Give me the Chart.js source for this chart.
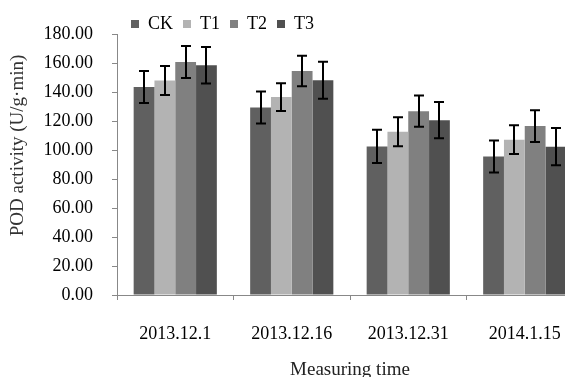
<!DOCTYPE html>
<html>
<head>
<meta charset="utf-8">
<script src="https://cdn.jsdelivr.net/npm/chart.js@4/dist/chart.umd.min.js"></script>
<style>
  html, body { margin: 0; padding: 0; background: #fff; overflow: hidden; }
  #wrap { position: relative; width: 600px; height: 377px; }
</style>
</head>
<body>
<div id="wrap"><canvas id="c" width="600" height="377"></canvas></div>
<script>
const categories = ["2013.12.1", "2013.12.16", "2013.12.31", "2014.1.15"];
const seriesNames = ["CK", "T1", "T2", "T3"];
const ckValues = [143.5, 129.3, 102.5, 95.5];
const t1Values = [148.0, 136.5, 112.6, 107.1];
const t2Values = [160.7, 154.5, 126.8, 116.5];
const t3Values = [158.4, 148.1, 120.6, 102.3];
const ckErrors = [11.0, 11.0, 11.5, 11.0];
const t1Errors = [10.0, 9.6, 10.0, 9.9];
const t2Errors = [11.0, 10.5, 10.8, 11.0];
const t3Errors = [12.6, 12.7, 12.5, 12.8];
const yTickValues = [0, 20, 40, 60, 80, 100, 120, 140, 160, 180];

const colors = ["#606060", "#b3b3b3", "#808080", "#505050"];
const values = [ckValues, t1Values, t2Values, t3Values];
const errors = [ckErrors, t1Errors, t2Errors, t3Errors];

const FONT = "'Liberation Serif', 'Times New Roman', serif";

const errorBarPlugin = {
  id: 'errorBars',
  afterDatasetsDraw(chart) {
    const ctx = chart.ctx;
    const yScale = chart.scales.y;
    ctx.save();
    ctx.strokeStyle = '#000';
    ctx.lineWidth = 2;
    chart.data.datasets.forEach((ds, di) => {
      const meta = chart.getDatasetMeta(di);
      meta.data.forEach((bar, i) => {
        const v = ds.data[i], e = ds.errors[i];
        const x = Math.round(bar.x);
        const yt = yScale.getPixelForValue(v + e);
        const yb = yScale.getPixelForValue(v - e);
        const cap = 5;
        ctx.beginPath();
        ctx.moveTo(x, yt); ctx.lineTo(x, yb);
        ctx.moveTo(x - cap, yt); ctx.lineTo(x + cap, yt);
        ctx.moveTo(x - cap, yb); ctx.lineTo(x + cap, yb);
        ctx.stroke();
      });
    });
    ctx.restore();
  }
};

const legendShift = {
  id: 'legendShift',
  afterLayout(chart) {
    const l = chart.legend;
    if (l) { const dx = 121, dy = 9; l.left += dx; l.right += dx; l.top += dy; l.bottom += dy; }
  }
};

new Chart(document.getElementById('c'), {
  type: 'bar',
  data: {
    labels: categories,
    datasets: seriesNames.map((n, k) => ({
      label: n,
      data: values[k],
      errors: errors[k],
      backgroundColor: colors[k],
      borderWidth: 0,
      barPercentage: 1.0,
      categoryPercentage: 0.714
    }))
  },
  options: {
    responsive: false,
    animation: false,
    devicePixelRatio: 1,
    layout: { padding: { left: 0, right: 17, top: -4, bottom: 0 } },
    plugins: {
      tooltip: { enabled: false },
      legend: {
        display: true,
        position: 'top',
        align: 'start',
        labels: {
          boxWidth: 8,
          boxHeight: 8,
          padding: 10,
          color: '#000',
          font: { family: FONT, size: 18 }
        }
      }
    },
    scales: {
      x: {
        offset: true,
        grid: { display: true, offset: true, drawOnChartArea: false, drawTicks: true, tickLength: 5, color: '#888' },
        border: { display: true, color: '#888', width: 1 },
        ticks: { color: '#000', font: { family: FONT, size: 18 }, padding: 23, maxRotation: 0 },
        title: { display: true, text: 'Measuring time', color: '#222', font: { family: FONT, size: 19, lineHeight: 1.0 }, padding: { top: 8, bottom: -3 } },
        afterFit(s) { s.height = 82; }
      },
      y: {
        min: 0, max: 180,
        afterBuildTicks(s) { s.ticks = yTickValues.map(v => ({ value: v })); },
        grid: { display: true, drawOnChartArea: false, drawTicks: true, tickLength: 5, color: '#888' },
        border: { display: true, color: '#888', width: 1 },
        ticks: { color: '#000', font: { family: FONT, size: 18 }, padding: 19, callback: v => Number(v).toFixed(2) },
        title: { display: true, text: '\u00A0\u00A0\u00A0\u00A0\u00A0\u00A0\u00A0\u00A0POD activity (U/g·min)', color: '#333', font: { family: FONT, size: 19 }, padding: { top: 7, bottom: 4 } },
        afterFit(s) { s.width = 117; }
      }
    }
  },
  plugins: [errorBarPlugin, legendShift]
});
</script>
</body>
</html>
